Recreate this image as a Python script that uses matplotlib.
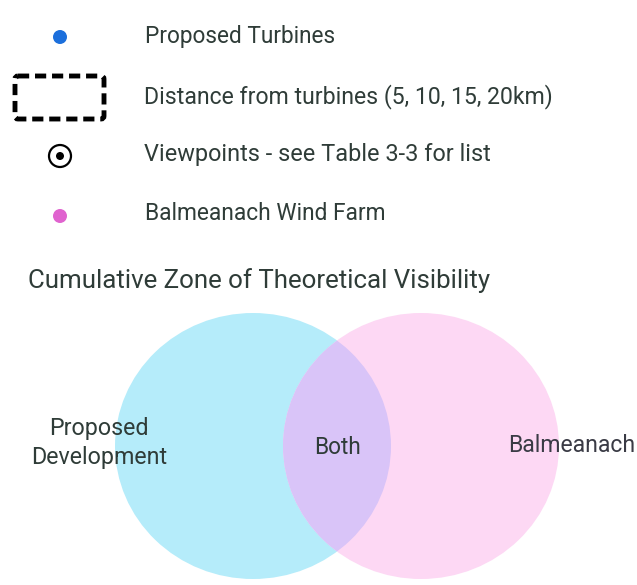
import matplotlib
matplotlib.use("Agg")
import matplotlib.pyplot as plt
from matplotlib.patches import Ellipse, FancyBboxPatch, Circle

# ---- content ----
legend_labels = [
    "Proposed Turbines",
    "Distance from turbines (5, 10, 15, 20km)",
    "Viewpoints - see Table 3-3 for list",
    "Balmeanach Wind Farm",
]
title_text = "Cumulative Zone of Theoretical Visibility"
venn_labels = ["Proposed\nDevelopment", "Both", "Balmeanach"]
venn_colors = ["#b5ecfa", "#fdd8f4", "#d9c4f8"]
marker_colors = ["#1c6fdc", "#e063cf"]

TEXT = "#2f3c38"
FONT = "Roboto"

W, H = 637, 585
fig = plt.figure(figsize=(W / 100, H / 100), dpi=100)
ax = fig.add_axes([0, 0, 1, 1])
ax.set_xlim(0, W)
ax.set_ylim(H, 0)
ax.axis("off")
renderer = fig.canvas.get_renderer()


def fit_text(x, y, s, target_w, ha="left", va="center", color=TEXT, **kw):
    t = ax.text(x, y, s, ha=ha, va=va, color=color, family=FONT, fontsize=14, **kw)
    w = t.get_window_extent(renderer).width
    t.set_fontsize(14 * target_w / w)
    return t


# ---- legend ----
ax.add_patch(Circle((60, 37), 7, color=marker_colors[0], lw=0))
fit_text(145, 37, legend_labels[0], 192)

ax.add_patch(FancyBboxPatch((15, 76), 89, 43, boxstyle="round,pad=0,rounding_size=3",
                            fill=False, ec="black", lw=3.5,
                            linestyle=(0, (2.3, 1.2)), capstyle="butt"))
fit_text(144, 97, legend_labels[1], 411)

ax.add_patch(Circle((60, 156), 11, fill=False, ec="black", lw=1.6))
ax.add_patch(Circle((60, 156), 4, color="black", lw=0))
fit_text(144, 155, legend_labels[2], 348)

ax.add_patch(Circle((60, 216), 7, color=marker_colors[1], lw=0))
fit_text(145, 214, legend_labels[3], 243)

fit_text(28, 281, title_text, 465)

# ---- venn ----
cy, rx, ry = 446, 138, 133
e1 = Ellipse((253, cy), 2 * rx, 2 * ry, color=venn_colors[0], lw=0)
e2 = Ellipse((421, cy), 2 * rx, 2 * ry, color=venn_colors[1], lw=0)
ax.add_patch(e1)
ax.add_patch(e2)
e3 = Ellipse((421, cy), 2 * rx, 2 * ry, color=venn_colors[2], lw=0)
ax.add_patch(e3)
e3.set_clip_path(e1)

t = fit_text(99, 443, venn_labels[0], 137, ha="center", linespacing=1.3)
fit_text(338, 447, venn_labels[1], 47, ha="center")
fit_text(508, 446, venn_labels[2], 128, color="#3a3b45")

fig.savefig("out.png", dpi=100, facecolor="white")
